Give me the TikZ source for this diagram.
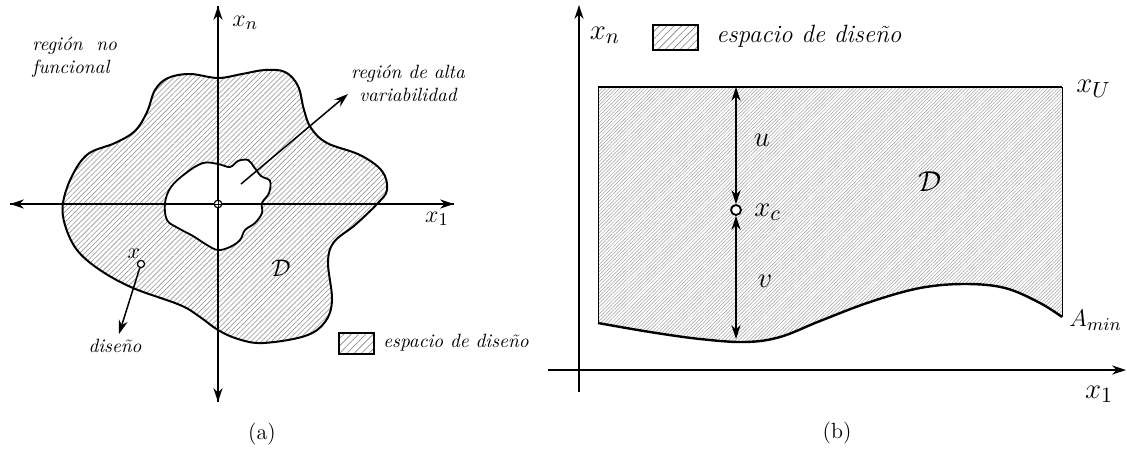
\documentclass[tikz,border=0pt]{standalone}
\usetikzlibrary{arrows.meta,patterns.meta}
\begin{document}
\begin{tikzpicture}[x=0.5pt,y=-0.5pt,
  lab/.style={font=\fontsize{9.6}{11.5}\selectfont\itshape, inner sep=1pt},
  labR/.style={font=\fontsize{12.5}{14}\selectfont\itshape, inner sep=1pt},
  mathL/.style={font=\fontsize{13}{15}\selectfont, inner sep=1pt},
  mathR/.style={font=\fontsize{15}{17}\selectfont, inner sep=1pt},
  tip/.tip={Stealth[length=7pt,width=4.6pt]},
  axis/.style={line width=0.55pt,-tip},
  pointer/.style={line width=0.75pt,-tip},
  dimarrow/.style={line width=0.7pt,tip-tip},
  hatchL/.style={pattern={Lines[angle=45,distance=1.8pt,line width=0.3pt]},pattern color=gray!85},
  hatchR/.style={pattern={Lines[angle=45,distance=1.25pt,line width=0.25pt]},pattern color=gray!75},
  hatchbox/.style={pattern={Lines[angle=45,distance=2.6pt,line width=0.3pt]},pattern color=gray},
  outline/.style={line width=1pt},
  dot/.style={circle,draw,line width=0.6pt,fill=white,inner sep=0pt,minimum size=#1}
]
\useasboundingbox (0,0) rectangle (1127,450);

% ================= (a) =================
\def\outerblob{(63,203) (72,176) (88,154) (115,143) (135,131) (147,112) (155,90) (168,78) (190,74) (218,78)
 (242,74) (265,70) (285,72) (298,86) (304,110) (311,128) (327,143) (360,155) (382,171)
 (387,190) (377,204) (355,225) (334,242) (328,262) (332,300) (325,322) (305,336) (263,343)
 (238,339) (218,330) (200,317) (180,305) (133,288) (100,270) (77,250) (65,225)}
\path[hatchL] plot[smooth cycle,tension=0.6] coordinates {\outerblob};
\draw[outline] plot[smooth cycle,tension=0.6] coordinates {\outerblob};
% inner blob
\draw[line width=0.9pt,fill=white] plot[smooth cycle,tension=0.6] coordinates {
 (165,203) (171,187) (186,173) (203,163) (218,164) (230,167) (238,161) (248,160) (254,167)
 (261,176) (270,181) (269,193) (262,203) (262,213) (255,223) (245,230) (240,240) (230,247)
 (218,250) (207,245) (193,236) (178,228) (167,220)};

% axes
\coordinate (aL) at (10,204);
\coordinate (aR) at (454,204);
\coordinate (aT) at (218,6);
\coordinate (aB) at (218,402);
\draw[axis] (aR) -- (aL);
\draw[axis] (aL) -- (aR);
\draw[axis] (aB) -- (aT);
\draw[axis] (aT) -- (aB);
\node[dot=3.8pt] (orig) at (218,204) {};
\draw[line width=0.4pt] (orig.west) -- (orig.east) (orig.north) -- (orig.south);

\node[mathL,anchor=west] (xnA) at (230,23) {$x_n$};
\node[mathL] (x1A) at (437,219) {$x_1$};

% labels
\node[lab,align=left,anchor=west] (nofunc) at (30,57) {regi\'on\ \ no\\funcional};
\node[lab,align=center] (alta) at (408,83) {regi\'on de alta\\variabilidad};
\coordinate (altaTail) at (241,184);
\coordinate (altaTip) at (348,94);
\draw[pointer] (altaTail) -- (altaTip);

\node[dot=3.6pt] (design) at (141,264) {};
\node[lab,font=\fontsize{11}{12}\selectfont] (xA) at (134,254) {$x$};
\node[lab] (disenoA) at (115,346) {dise\~no};
\coordinate (disTip) at (119,334);
\draw[pointer] (design) -- (disTip);

\node[font=\fontsize{12}{14}\selectfont] (DA) at (281,268) {$\mathcal{D}$};

% legend
\node[draw,line width=0.8pt,hatchbox,minimum width=17.5pt,minimum height=10.5pt,inner sep=0pt] (legA) at (356.5,343.5) {};
\node[lab,anchor=west] (legAt) at (381,343) {espacio de dise\~no};

\node[font=\fontsize{11}{13}\selectfont] (capA) at (262,434) {(a)};

% ================= (b) =================
\def\bcurve{(598,323) (650,332) (700,339) (745,342) (780,337) (820,321) (870,302) (920,288) (965,284) (1005,288) (1040,303) (1062,317)}
\path[hatchR] (1062,317) -- (1062,87) -- (598,87) -- plot[smooth,tension=0.6] coordinates {\bcurve} -- cycle;
\draw[line width=0.5pt] (598,323) -- (598,87) (1062,87) -- (1062,317);
\draw[line width=1.1pt] (598,87) -- (1062,87);
\draw[line width=1.2pt] plot[smooth,tension=0.6] coordinates {\bcurve};

% axes
\coordinate (bL) at (548,370);
\coordinate (bR) at (1126,370);
\coordinate (bB) at (579,392);
\coordinate (bT) at (579,5);
\draw[axis,line width=0.75pt] (bL) -- (bR);
\draw[axis,line width=0.75pt] (bB) -- (bT);
\node[mathR] (xnB) at (605,35) {$x_n$};
\node[mathR] (x1B) at (1099,394) {$x_1$};

% dims
\node[dot=5pt,line width=0.9pt] (xc) at (736,210) {};
\coordinate (uTop) at (736,87);
\coordinate (vBot) at (736,339);
\draw[dimarrow] (uTop) -- (xc.north);
\draw[dimarrow] (xc.south) -- (vBot);
\node[mathR] (uL) at (762,140) {$u$};
\node[mathR] (vL) at (765,281) {$v$};
\node[mathR,anchor=west] (xcL) at (752,212) {$x_c$};
\node[mathR] (DB) at (930,182) {$\mathcal{D}$};
\node[mathR,anchor=west] (xU) at (1074,89) {$x_U$};
\node[font=\fontsize{13}{15}\selectfont,inner sep=0pt,anchor=west] (Amin) at (1069,320) {$A_{min}$};

% legend
\node[draw,line width=0.9pt,hatchbox,minimum width=22.5pt,minimum height=12.5pt,inner sep=0pt] (legB) at (675.5,37.5) {};
\node[labR,anchor=west] (legBt) at (714,36) {espacio de dise\~no};

\node[font=\fontsize{11}{13}\selectfont] (capB) at (837,433) {(b)};
\end{tikzpicture}
\end{document}
